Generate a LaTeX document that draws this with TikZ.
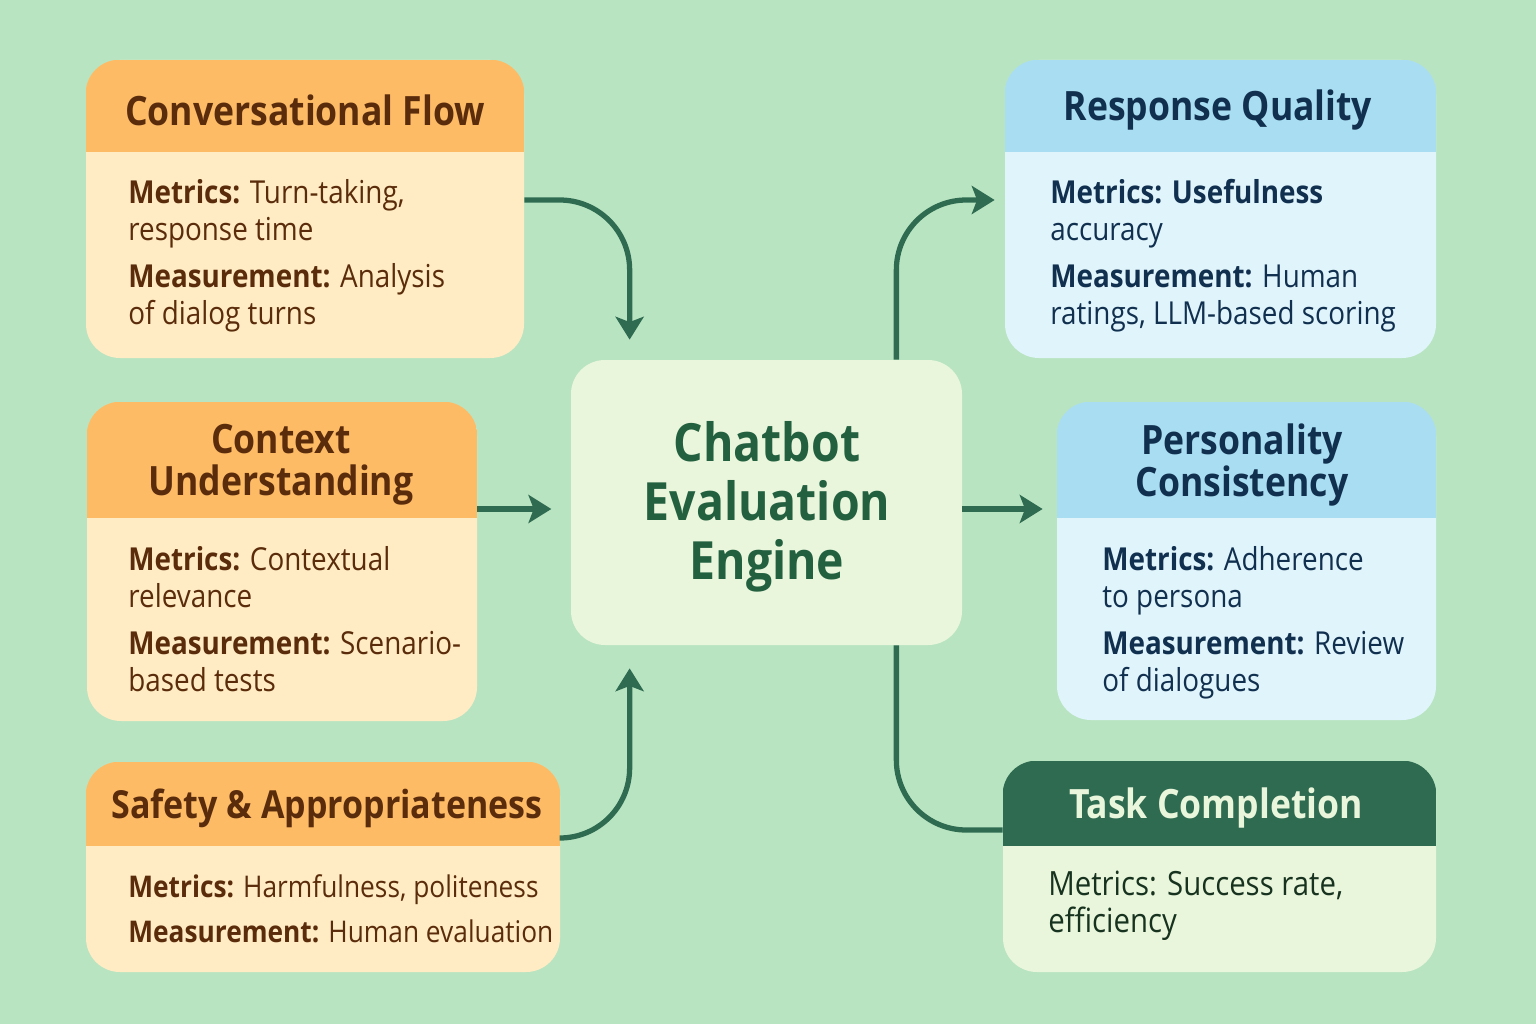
\documentclass[tikz,border=0pt]{standalone}
\usepackage{fontspec}
\setmainfont{Open Sans}[FakeStretch=0.88]
\usetikzlibrary{positioning,fit,calc,arrows.meta}

\definecolor{bgGreen}{HTML}{B9E4C1}
\definecolor{orangeHead}{HTML}{FDBB66}
\definecolor{orangeBody}{HTML}{FFECC4}
\definecolor{brownText}{HTML}{5B2C0C}
\definecolor{blueHead}{HTML}{A9DDF2}
\definecolor{blueBody}{HTML}{E0F4FB}
\definecolor{navyText}{HTML}{11304F}
\definecolor{paleGreen}{HTML}{E9F6DC}
\definecolor{darkGreen}{HTML}{2F6B51}
\definecolor{engineText}{HTML}{22603F}
\definecolor{taskText}{HTML}{17331F}

\tikzset{
  card/.style={inner sep=0, rounded corners=0.68cm, fill=#1},
  title/.style={font=\bfseries\fontsize{23}{24}\selectfont, align=center},
  body/.style={anchor=north west, align=left, inner sep=0,
    font=\fontsize{18}{21}\selectfont},
  link/.style={draw=darkGreen, line width=3pt,
    -{Stealth[length=13pt, width=16pt, inset=3pt]}},
}

\begin{document}
\begin{tikzpicture}[x=0.02cm, y=-0.02cm]
  \fill[bgGreen] (0,0) rectangle (1536,1024);
  \useasboundingbox (0,0) rectangle (1536,1024);

  % centre box
  \node[card=paleGreen, fit={(571,360) (962,645)}] (engine) {};
  \node[font=\bfseries\fontsize{30}{33.6}\selectfont, align=center, text=engineText]
    (engine-t) at (767,507) {Chatbot\\Evaluation\\Engine};

  % Conversational Flow
  \node[card=orangeBody, fit={(86,60) (524,358)}] (flow) {};
  \begin{scope}
    \clip[rounded corners=0.68cm] (flow.north west) rectangle (flow.south east);
    \fill[orangeHead] (flow.north west) rectangle (524,152);
  \end{scope}
  \node[title, text=brownText] (flow-t) at (305,110) {Conversational Flow};
  \node[body, text=brownText] (flow-b) at (128,179)
    {\textbf{Metrics:} Turn-taking,\\ response time\\[6pt]
     \textbf{Measurement:} Analysis\\ of dialog turns};

  % Context Understanding
  \node[card=orangeBody, fit={(87,402) (477,721)}] (ctx) {};
  \begin{scope}
    \clip[rounded corners=0.68cm] (ctx.north west) rectangle (ctx.south east);
    \fill[orangeHead] (ctx.north west) rectangle (477,518);
  \end{scope}
  \node[title, text=brownText] (ctx-t) at (281,465) {Context\\Understanding};
  \node[body, text=brownText] (ctx-b) at (128,546)
    {\textbf{Metrics:} Contextual\\ relevance\\[6pt]
     \textbf{Measurement:} Scenario-\\based tests};

  % Safety & Appropriateness
  \node[card=orangeBody, fit={(86,762) (560,972)}] (safe) {};
  \begin{scope}
    \clip[rounded corners=0.68cm] (safe.north west) rectangle (safe.south east);
    \fill[orangeHead] (safe.north west) rectangle (560,846);
  \end{scope}
  \node[title, text=brownText, font=\bfseries\fontsize{22}{24}\selectfont]
    (safe-t) at (327,808) {Safety \& Appropriateness};
  \node[body, text=brownText, font=\fontsize{17}{21}\selectfont] (safe-b) at (128,874)
    {\textbf{Metrics:} Harmfulness, politeness\\[5pt]
     \textbf{Measurement:} Human evaluation};

  % Response Quality
  \node[card=blueBody, fit={(1005,60) (1436,358)}] (resp) {};
  \begin{scope}
    \clip[rounded corners=0.68cm] (resp.north west) rectangle (resp.south east);
    \fill[blueHead] (resp.north west) rectangle (1436,152);
  \end{scope}
  \node[title, text=navyText] (resp-t) at (1218,110) {Response Quality};
  \node[body, text=navyText] (resp-b) at (1050,179)
    {\textbf{Metrics: Usefulness}\\ accuracy\\[6pt]
     \textbf{Measurement:} Human\\ ratings, LLM-based scoring};

  % Personality Consistency
  \node[card=blueBody, fit={(1057,402) (1436,720)}] (pers) {};
  \begin{scope}
    \clip[rounded corners=0.68cm] (pers.north west) rectangle (pers.south east);
    \fill[blueHead] (pers.north west) rectangle (1436,518);
  \end{scope}
  \node[title, text=navyText] (pers-t) at (1242,465) {Personality\\Consistency};
  \node[body, text=navyText] (pers-b) at (1102,546)
    {\textbf{Metrics:} Adherence\\ to persona\\[6pt]
     \textbf{Measurement:} Review\\ of dialogues};

  % Task Completion
  \node[card=paleGreen, fit={(1003,761) (1436,972)}] (task) {};
  \begin{scope}
    \clip[rounded corners=0.68cm] (task.north west) rectangle (task.south east);
    \fill[darkGreen] (task.north west) rectangle (1436,846);
  \end{scope}
  \node[title, text=paleGreen] (task-t) at (1216,808) {Task Completion};
  \node[body, text=taskText, font=\fontsize{19}{21}\selectfont] (task-b) at (1048,871)
    {Metrics: Success rate,\\ efficiency};

  % connectors
  \draw[link, rounded corners=1.4cm] ([yshift=0.18cm]flow.east)
    -| ($(engine.north west)+(59,-20)$);
  \draw[link, shorten >=11pt] ([yshift=1.05cm]ctx.east) -- ([yshift=1.05cm]ctx.east -| engine.west);
  \draw[link, rounded corners=1.4cm] ([yshift=0.58cm]safe.east)
    -| ($(engine.south west)+(59,23)$);
  \draw[link, rounded corners=1.4cm] ([xshift=-1.32cm]engine.north east)
    |- ([xshift=-0.2cm, yshift=0.18cm]resp.west);
  \draw[link, shorten >=8pt] ([yshift=-0.13cm]engine.east) -- ([yshift=-0.13cm]engine.east -| pers.west);
  \draw[draw=darkGreen, line width=3pt, rounded corners=1.4cm]
    ([xshift=-1.32cm]engine.south east) |- ([yshift=0.73cm]task.west);
\end{tikzpicture}
\end{document}
